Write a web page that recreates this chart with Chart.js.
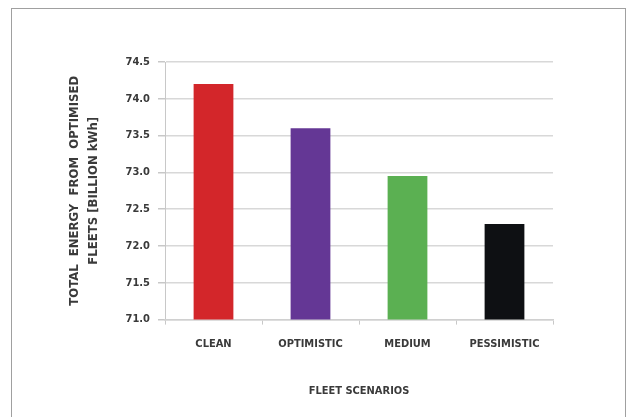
<!DOCTYPE html>
<html>
<head>
<meta charset="utf-8">
<script src="https://cdn.jsdelivr.net/npm/chart.js@4.4.1/dist/chart.umd.min.js"></script>
<style>
  html, body { margin: 0; padding: 0; background: #fff; }
  #wrap { position: relative; width: 627px; height: 417px; overflow: hidden; }
  #frame {
    position: absolute; left: 11px; top: 8px; width: 613px; height: 430px;
    border: 1px solid #a0a0a0;
  }
  canvas { position: absolute; left: 0; top: 0; }
</style>
</head>
<body>
<div id="wrap">
  <div id="frame"></div>
  <canvas id="energyChart" width="627" height="417"></canvas>
</div>
<script>
// Fleet scenarios and total energy (billion kWh)
const SCENARIOS = ['CLEAN', 'OPTIMISTIC', 'MEDIUM', 'PESSIMISTIC'];
const ENERGY = [74.2, 73.6, 72.95, 72.3];
const BAR_COLORS = ['#d3262a', '#643795', '#5bb052', '#0e1013'];
const Y_MIN = 71.0;
const Y_MAX = 74.5;
const Y_STEP = 0.5;

const LABEL_FONT = "'DejaVu Sans Condensed', 'Liberation Sans Narrow', sans-serif";
const TEXT_COLOR = '#3a3a3a';

const ctx = document.getElementById('energyChart').getContext('2d');

new Chart(ctx, {
  type: 'bar',
  data: {
    labels: SCENARIOS,
    datasets: [{
      data: ENERGY,
      backgroundColor: BAR_COLORS,
      borderWidth: 0,
      categoryPercentage: 1.0,
      barPercentage: 0.41
    }]
  },
  options: {
    responsive: false,
    animation: false,
    layout: {
      padding: { left: 65, right: 74, top: 62, bottom: 19 }
    },
    plugins: {
      legend: { display: false },
      tooltip: { enabled: false }
    },
    scales: {
      y: {
        min: Y_MIN,
        max: Y_MAX,
        afterFit: (scale) => { scale.width = 100; },
        ticks: {
          stepSize: Y_STEP,
          padding: 8,
          color: TEXT_COLOR,
          font: { family: LABEL_FONT, size: 11, weight: 'bold' },
          callback: (v) => Number(v).toFixed(1)
        },
        grid: {
          color: '#d8d8d8',
          lineWidth: 1.5,
          tickLength: 7,
          tickColor: '#c8c8c8'
        },
        border: { color: '#c8c8c8', width: 1 },
        title: {
          display: true,
          text: ['TOTAL  ENERGY  FROM  OPTIMISED', 'FLEETS [BILLION kWh]'],
          color: TEXT_COLOR,
          font: { family: LABEL_FONT, size: 13, weight: 'bold', lineHeight: 1.45 },
          padding: { top: 0, bottom: 0 }
        }
      },
      x: {
        ticks: {
          padding: 13,
          color: TEXT_COLOR,
          font: { family: LABEL_FONT, size: 11, weight: 'bold' }
        },
        grid: {
          offset: true,
          drawOnChartArea: false,
          tickLength: 5,
          tickColor: '#c8c8c8'
        },
        border: { color: '#d0d0d0', width: 1.5 },
        title: {
          display: true,
          text: 'FLEET SCENARIOS',
          color: TEXT_COLOR,
          font: { family: LABEL_FONT, size: 11, weight: 'bold' },
          padding: { top: 21, bottom: 0 }
        }
      }
    }
  }
});
</script>
</body>
</html>
